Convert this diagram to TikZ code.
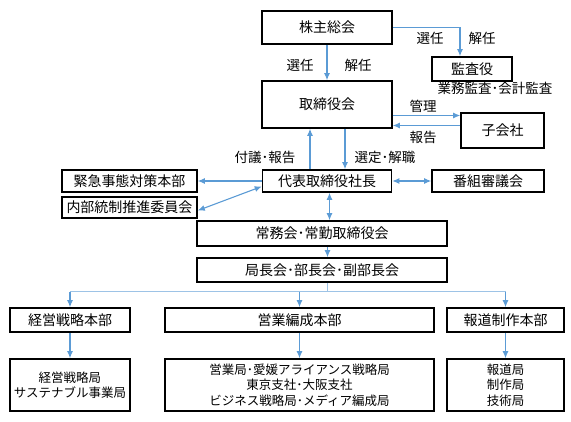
\documentclass[tikz,border=0pt]{standalone}
\usepackage{fontspec}
\setmainfont{Noto Sans CJK JP}
\usepackage{tikz}
\usetikzlibrary{arrows.meta,positioning}
\definecolor{arrowblue}{RGB}{91,155,213}
\definecolor{lineblue}{RGB}{157,195,230}
\tikzstyle{line} = [draw=arrowblue, line width=1.1pt, -{Latex[length=7pt,width=6pt]}]
\tikzstyle{dline} = [draw=arrowblue, line width=1.1pt, {Latex[length=7pt,width=6pt]}-{Latex[length=7pt,width=6pt]}]
\tikzstyle{box} = [rectangle, draw, line width=1.6pt, inner sep=0pt, text centered, font=\fontsize{14}{16}\selectfont]
\tikzstyle{subbox} = [box, align=center, font=\fontsize{12.5}{15.5}\selectfont]
\tikzstyle{lbl} = [inner sep=0pt, font=\fontsize{13.5}{15}\selectfont]

\begin{document}
\begin{tikzpicture}[x=1pt, y=-1pt]
	\useasboundingbox (0,0) rectangle (571,422);
	
	\node [box, minimum width=130, minimum height=33] (soukai) at (327,27.5) {株主総会};
	\node [box, minimum width=80, minimum height=24] (kansa) at (472,69) {監査役};
	\node [lbl] (kansanote) at (495,88) {業務監査･会計監査};
	\node [box, below of = soukai, node distance = 77, minimum width=130, minimum height=47] (torikai) {取締役会};
	\node [box, minimum width=83, minimum height=35] (kogaisha) at (502.5,130.5) {子会社};
	\node [box, below of = torikai, node distance = 76.5, minimum width=129, minimum height=22] (daihyo) {代表取締役社長};
	\node [box, minimum width=135, minimum height=22] (kinkyu) at (129.5,181) {緊急事態対策本部};
	\node [box, minimum width=135, minimum height=21] (naibu) at (129.5,207.5) {内部統制推進委員会};
	\node [box, minimum width=112, minimum height=22] (bangumi) at (488,181) {番組審議会};
	\node [box, minimum width=250, minimum height=25] (jomu) at (322,233.5) {常務会･常勤取締役会};
	\node [box, below of = jomu, node distance = 36.5, minimum width=250, minimum height=24] (kyoku) {局長会･部長会･副部長会};
	
	\node [box, minimum width=120, minimum height=24] (keiei) at (70,320) {経営戦略本部};
	\node [box, minimum width=269, minimum height=24] (eigyo) at (299.5,320) {営業編成本部};
	\node [box, minimum width=117, minimum height=24] (hodo) at (505.5,320) {報道制作本部};
	\node [subbox, below of = keiei, node distance = 65, minimum width=120, minimum height=52] (keieik) {経営戦略局\\サステナブル事業局};
	\node [subbox, below of = eigyo, node distance = 65, minimum width=269, minimum height=52] (eigyok) {営業局･愛媛アライアンス戦略局\\東京支社･大阪支社\\ビジネス戦略局･メディア編成局};
	\node [subbox, below of = hodo, node distance = 65, minimum width=117, minimum height=52] (hodok) {報道局\\制作局\\技術局};
	
	% labels
	\node [lbl] (sennin1) at (300,65) {選任};
	\node [lbl] (kainin1) at (358,65) {解任};
	\node [lbl] (sennin2) at (430,38) {選任};
	\node [lbl] (kainin2) at (482,38) {解任};
	\node [lbl] (kanrilbl) at (423,106) {管理};
	\node [lbl] (hokokulbl) at (423,137) {報告};
	\node [lbl] (fugilbl) at (265,157) {付議･報告};
	\node [lbl] (senteilbl) at (385,157) {選定･解職};
	
	\coordinate (kanri) at ([yshift=-11]torikai.east);
	\coordinate (hokoku) at ([yshift=5]kogaisha.west);
	\coordinate (fugi) at ([xshift=-17]daihyo.north);
	\coordinate (sentei) at ([xshift=18]torikai.south);
	\coordinate (naibuto) at ([yshift=-5.5]daihyo.west);
	\coordinate (jomuto) at ([xshift=2.5]daihyo.south);
	\coordinate (kyokuto) at ([xshift=5.5]jomu.south);
	\coordinate (bunki) at ([xshift=5.5,yshift=-9]kyoku.south);
	
	\path [line] (soukai.south) -- (torikai.north);
	\path [line] (soukai.east) -| ([xshift=-12]kansa.north);
	\path [line] (kanri) -- (kanri -| kogaisha.west);
	\path [line] (hokoku) -- (hokoku -| torikai.east);
	\path [line] (fugi) -- (fugi |- torikai.south);
	\path [line] (sentei) -- (sentei |- daihyo.north);
	
	\path [line] (daihyo.west) -- (kinkyu.east);
	\path [dline] (naibuto) -- ([yshift=-3]naibu.east);
	\path [dline] (daihyo.east) -- (bangumi.west);
	\path [dline] (jomuto) -- (jomuto |- jomu.north);
	\path [line] (kyokuto) -- (kyokuto |- kyoku.north);
	
	\draw [lineblue, line width=1pt] ([xshift=5.5]kyoku.south) -- (bunki);
	\draw [lineblue, line width=1pt] (bunki -| keiei.north) -- (bunki -| hodo.north);
	\path [line] (bunki -| keiei.north) -- (keiei.north);
	\path [line] (bunki -| eigyo.north) -- (eigyo.north);
	\path [line] (bunki -| hodo.north) -- (hodo.north);
	
	\path [line] (keiei.south) -- (keieik.north);
	\path [line] (eigyo.south) -- (eigyok.north);
	\path [line] (hodo.south) -- (hodok.north);
\end{tikzpicture}
\end{document}
